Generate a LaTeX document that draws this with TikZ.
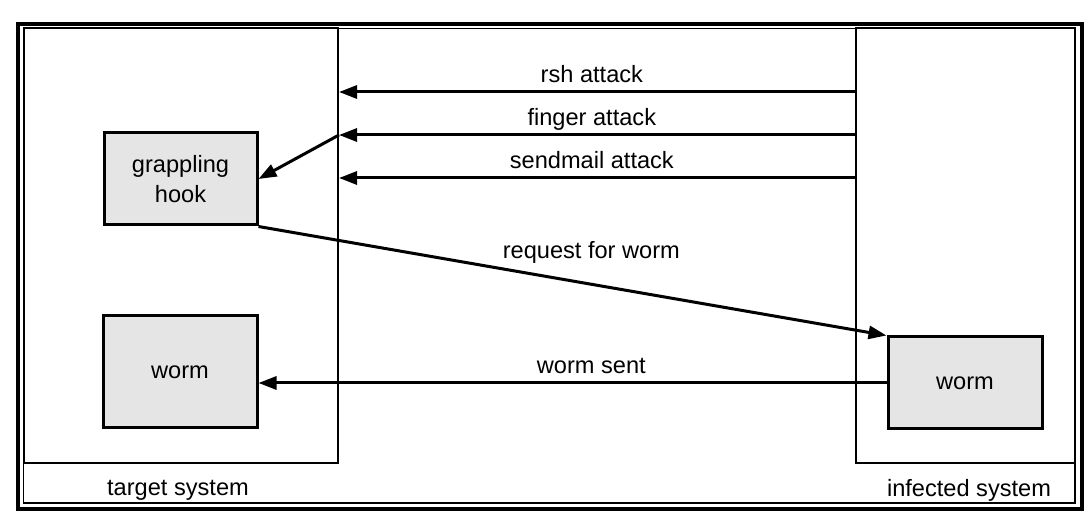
\documentclass[tikz,border=0pt]{standalone}
\usepackage{fontspec}
\setmainfont{Liberation Sans}
\usetikzlibrary{arrows.meta, positioning, calc}

\begin{document}
\begin{tikzpicture}[
  x=0.5pt, y=-0.5pt,
  sys/.style={draw, line width=1pt, inner sep=0pt},
  box/.style={draw, line width=1.5pt, fill=black!10, align=center,
              font=\fontsize{11.8}{14}\selectfont, inner sep=0pt},
  lbl/.style={font=\fontsize{11.8}{14}\selectfont, inner sep=0pt},
  ar/.style={-{Triangle[length=9pt, width=6.5pt]}, line width=1.5pt}
]
\useasboundingbox (0,0) rectangle (1089,518);

% double frame round the whole figure
\draw[line width=2pt] (18,24) rectangle (1082,509);
\draw[line width=0.75pt] (23.5,28.5) rectangle (1075,503);

% the two systems
\node[sys, minimum width=157.25pt, minimum height=217.25pt] (target) at (180.75,245.75) {};
\node[sys, minimum width=109.5pt, minimum height=217.25pt] (infected) at (965.5,245.75) {};
\node[lbl, anchor=base] (targetlbl) at (178,496) {target system};
\node[lbl, anchor=base] (infectedlbl) at (969,497) {infected system};

\node[box, minimum width=76.5pt, minimum height=46pt] (hook) at (180.5,179) {grappling\\[1pt]hook};
\node[box, minimum width=77pt, minimum height=56pt] (wormT) at (180,372) {worm};
\node[box, minimum width=77pt, minimum height=46pt] (wormI) at (965,383) {worm};

% attacks hit the target's edge
\coordinate (rsh) at (597,92);
\coordinate (finger) at (597,135);
\coordinate (sendmail) at (597,178);
\draw[ar] (infected.west |- rsh) -- node[pos=0.51, lbl, anchor=base, yshift=4.5pt] {rsh attack} (target.east |- rsh);
\draw[ar] (infected.west |- finger) -- node[pos=0.51, lbl, anchor=base, yshift=4.5pt] {finger attack} (target.east |- finger);
\draw[ar] (infected.west |- sendmail) -- node[pos=0.51, lbl, anchor=base, yshift=4.5pt] {sendmail attack} (target.east |- sendmail);
\draw[ar] (target.east |- finger) -- (hook.east);

\draw[ar] (hook.south east) -- node[pos=0.53, lbl, anchor=base, yshift=13pt] {request for worm} (wormI.north west);
\draw[ar] (wormI.west) -- node[pos=0.47, lbl, anchor=base, yshift=4.5pt] {worm sent} (wormT.east |- wormI.west);
\end{tikzpicture}
\end{document}
